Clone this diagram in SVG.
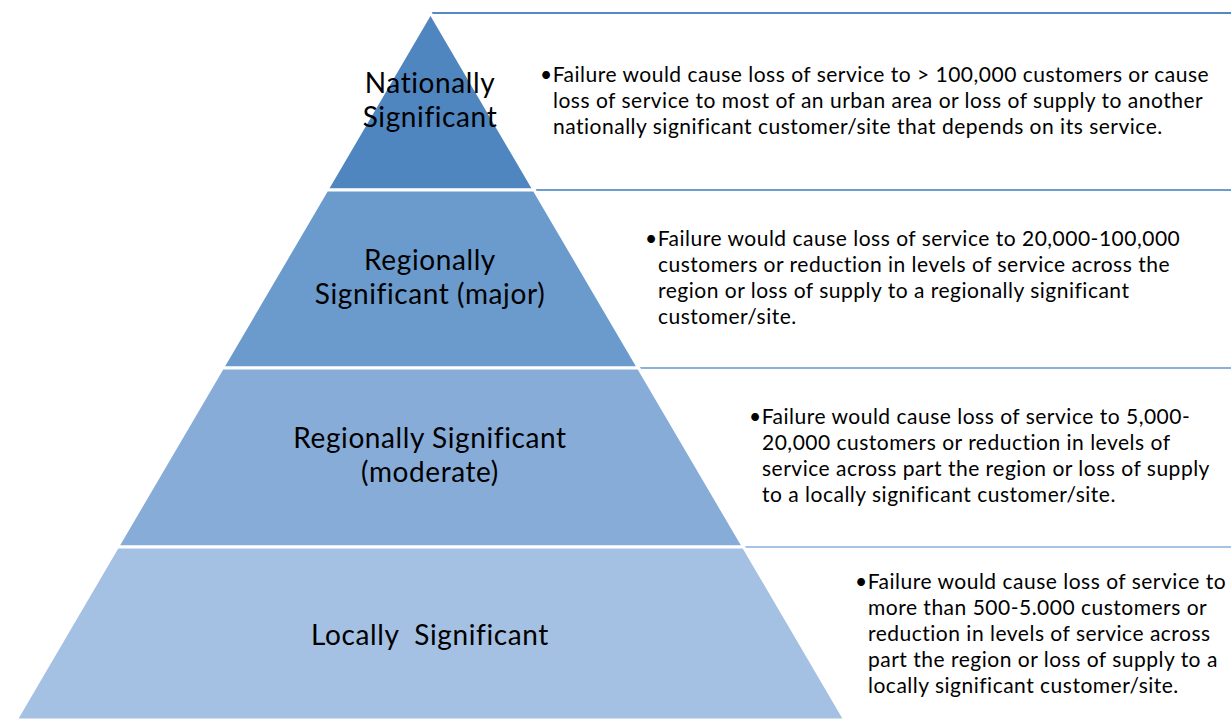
<svg xmlns="http://www.w3.org/2000/svg" width="1231" height="719" viewBox="0 0 1231 719">
  <style>
    .box { fill: #ffffff; stroke-width: 2; }
    .band { stroke: #ffffff; stroke-width: 3; stroke-linejoin: miter; }
    .label { font-family: Lato, "Open Sans", sans-serif; font-size: 28px; letter-spacing: 0.6px; fill: #000000; text-anchor: middle; }
    .desc { font-family: Lato, "Open Sans", sans-serif; font-size: 21px; letter-spacing: 0.5px; fill: #000000; }
  </style>
  <rect width="1231" height="719" fill="#ffffff"/>

  <!-- description panels sit behind the pyramid -->
  <g id="panels">
    <rect class="box" x="430" y="13" width="820" height="177" stroke="#5588c4"/>
    <rect class="box" x="430" y="190" width="820" height="178" stroke="#6d9dd0"/>
    <rect class="box" x="430" y="368" width="820" height="179" stroke="#8db0da"/>
    <rect class="box" x="430" y="547" width="820" height="190" stroke="#a6c2e4"/>
  </g>

  <!-- tier 1 -->
  <g id="tier-national">
    <polygon class="band" points="430.5,13 534.2,190 326.8,190" fill="#4f86c0"/>
    <text class="label" x="430" y="93">Nationally</text>
    <text class="label" x="430" y="127">Significant</text>
    <text class="desc" x="540" y="82">•Failure would cause loss of service to &gt; 100,000 customers or cause</text>
    <text class="desc" x="553" y="108">loss of service to most of an urban area or loss of supply to another</text>
    <text class="desc" x="553" y="134">nationally significant customer/site that depends on its service.</text>
  </g>

  <!-- tier 2 -->
  <g id="tier-regional-major">
    <polygon class="band" points="326.8,190 534.2,190 638.6,368 222.4,368" fill="#6a9bcc"/>
    <text class="label" x="430" y="270">Regionally</text>
    <text class="label" x="430" y="304">Significant (major)</text>
    <text class="desc" x="645" y="246">•Failure would cause loss of service to 20,000-100,000</text>
    <text class="desc" x="658" y="272">customers or reduction in levels of service across the</text>
    <text class="desc" x="658" y="298">region or loss of supply to a regionally significant</text>
    <text class="desc" x="658" y="324">customer/site.</text>
  </g>

  <!-- tier 3 -->
  <g id="tier-regional-moderate">
    <polygon class="band" points="222.4,368 638.6,368 743.6,547 117.4,547" fill="#88acd8"/>
    <text class="label" x="430" y="448">Regionally Significant</text>
    <text class="label" x="430" y="482">(moderate)</text>
    <text class="desc" x="749" y="424">•Failure would cause loss of service to 5,000-</text>
    <text class="desc" x="762" y="450">20,000 customers or reduction in levels of</text>
    <text class="desc" x="762" y="476">service across part the region or loss of supply</text>
    <text class="desc" x="762" y="502">to a locally significant customer/site.</text>
  </g>

  <!-- tier 4 -->
  <g id="tier-local">
    <polygon class="band" points="117.4,547 743.6,547 845,720 16,720" fill="#a4c0e3"/>
    <text class="label" x="430" y="645" xml:space="preserve">Locally  Significant</text>
    <text class="desc" x="855" y="589">•Failure would cause loss of service to</text>
    <text class="desc" x="868" y="615">more than 500-5.000 customers or</text>
    <text class="desc" x="868" y="641">reduction in levels of service across</text>
    <text class="desc" x="868" y="667">part the region or loss of supply to a</text>
    <text class="desc" x="868" y="693">locally significant customer/site.</text>
  </g>

  <g id="connectors"/>
</svg>
